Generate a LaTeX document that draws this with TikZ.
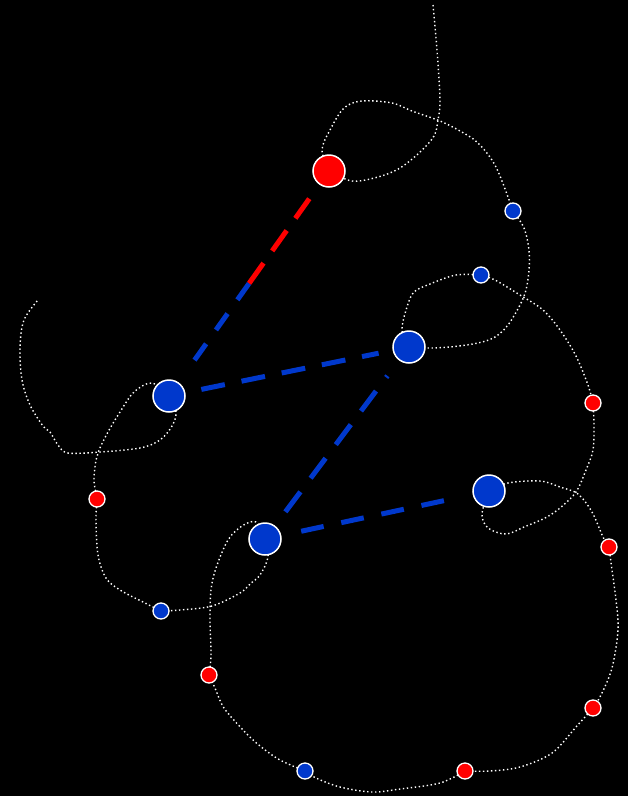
\documentclass[tikz,border=0pt]{standalone}
\usetikzlibrary{calc}
\definecolor{nblue}{RGB}{0,56,204}
\definecolor{nred}{RGB}{255,0,0}
\pgfdeclarelayer{back}
\pgfdeclarelayer{mid}
\pgfsetlayers{back,mid,main}
\tikzset{
  bignode/.style={circle, draw=white, line width=1.5pt, minimum size=32pt, inner sep=0pt},
  smallnode/.style={circle, draw=white, line width=1.3pt, minimum size=16pt, inner sep=0pt},
  dotline/.style={white, line width=1.4pt, dash pattern=on 1.4pt off 2.6pt},
  conn/.style={line width=5pt, dash pattern=on 24pt off 17pt},
  sm/.style={smooth, tension=0.55}
}
\begin{document}
\begin{tikzpicture}[x=1pt, y=-1pt]
\begin{pgfonlayer}{back}
\fill[black] (0,0) rectangle (628,796);
\end{pgfonlayer}
\useasboundingbox (0,0) rectangle (628,796);
% nodes
\node[bignode, fill=nred] (R) at (329,171) {};
\node[bignode, fill=nblue] (B1) at (169,396) {};
\node[bignode, fill=nblue] (B2) at (409,347) {};
\node[bignode, fill=nblue] (B3) at (265,539) {};
\node[bignode, fill=nblue] (B4) at (489,491) {};
\node[smallnode, fill=nblue] (S1) at (513,211) {};
\node[smallnode, fill=nblue] (S2) at (481,275) {};
\node[smallnode, fill=nblue] (SB2) at (161,611) {};
\node[smallnode, fill=nblue] (SB3) at (305,771) {};
\node[smallnode, fill=nred] (SR1) at (593,403) {};
\node[smallnode, fill=nred] (SR2) at (609,547) {};
\node[smallnode, fill=nred] (SR3) at (593,708) {};
\node[smallnode, fill=nred] (SR4) at (465,771) {};
\node[smallnode, fill=nred] (SR5) at (209,675) {};
\node[smallnode, fill=nred] (SR6) at (97,499) {};
\coordinate (top) at (433,5);
\coordinate (tail) at (38,300);
\begin{pgfonlayer}{mid}
% dotted strand
\draw[dotline] plot[sm] coordinates {(top) (437,50) (440,100) (438,120) (434,136) (420,152) (400,168) (378,177) (352,181) (R.center)};
\draw[dotline] plot[sm] coordinates {(R.center) (322,150) (330,130) (344,108) (362,101) (392,103) (412,111) (440,121) (460,131) (478,143) (496,167) (S1.center)};
\draw[dotline] plot[sm] coordinates {(S1.center) (524,228) (529,250) (529,270) (526,290) (520,305) (508,325) (495,337) (478,343) (450,347) (428,348) (B2.center)};
\draw[dotline] plot[sm] coordinates {(B2.center) (402,330) (407,307) (414,292) (430,284) (456,275) (S2.center)};
\draw[dotline] plot[sm] coordinates {(S2.center) (495,280) (520,295) (543,310) (560,330) (576,356) (588,385) (SR1.center)};
\draw[dotline] plot[sm] coordinates {(SR1.center) (594,425) (593,450) (586,470) (576,492) (560,508) (545,518) (524,527) (506,534) (488,528) (482,514) (B4.center)};
\draw[dotline] plot[sm] coordinates {(B4.center) (508,483) (540,481) (560,487) (578,494) (592,512) (603,537) (SR2.center)};
\draw[dotline] plot[sm] coordinates {(SR2.center) (612,570) (616,600) (618,630) (612,668) (601,695) (SR3.center)};
\draw[dotline] plot[sm] coordinates {(SR3.center) (576,727) (552,753) (520,767) (490,771) (SR4.center)};
\draw[dotline] plot[sm] coordinates {(SR4.center) (440,783) (400,789) (372,792) (340,787) (316,778) (SB3.center)};
\draw[dotline] plot[sm] coordinates {(SB3.center) (280,760) (260,746) (244,731) (224,708) (215,688) (SR5.center)};
\draw[dotline] plot[sm] coordinates {(SR5.center) (211,655) (210,620) (211,590) (216,568) (228,540) (242,526) (256,522) (B3.center)};
\draw[dotline] plot[sm] coordinates {(B3.center) (268,557) (260,575) (250,584) (240,593) (212,606) (180,610) (SB2.center)};
\draw[dotline] plot[sm] coordinates {(SB2.center) (145,603) (120,590) (106,578) (98,555) (96,520) (SR6.center)};
\draw[dotline] plot[sm] coordinates {(SR6.center) (94,480) (96,460) (99,450) (108,432) (120,412) (134,392) (152,383) (B1.center)};
\draw[dotline] plot[sm] coordinates {(B1.center) (176,412) (172,426) (160,440) (140,448) (100,452) (68,453) (58,445) (50,432) (43,426) (30,405) (22,380) (20,347) (24,320) (tail)};
% dashed links
\coordinate (m1) at ($(R.center)!0.5!(B1.center)$);
\draw[conn, nred, dash pattern=on 25pt off 15pt, shorten >=34pt] (m1) -- (R.center);
\draw[conn, nblue, dash pattern=on 20pt off 17pt, shorten >=36pt] (m1) -- (B1.center);
\draw[conn, nblue, shorten <=33pt, shorten >=31pt] (B1.center) -- (B2.center);
\draw[conn, nblue, dash pattern=on 25pt off 17pt, shorten <=34pt, shorten >=36pt] (B3.center) -- (B2.center);
\draw[conn, nblue, dash pattern=on 23pt off 18pt, shorten <=37pt, shorten >=44pt] (B3.center) -- (B4.center);
\end{pgfonlayer}
\end{tikzpicture}
\end{document}
